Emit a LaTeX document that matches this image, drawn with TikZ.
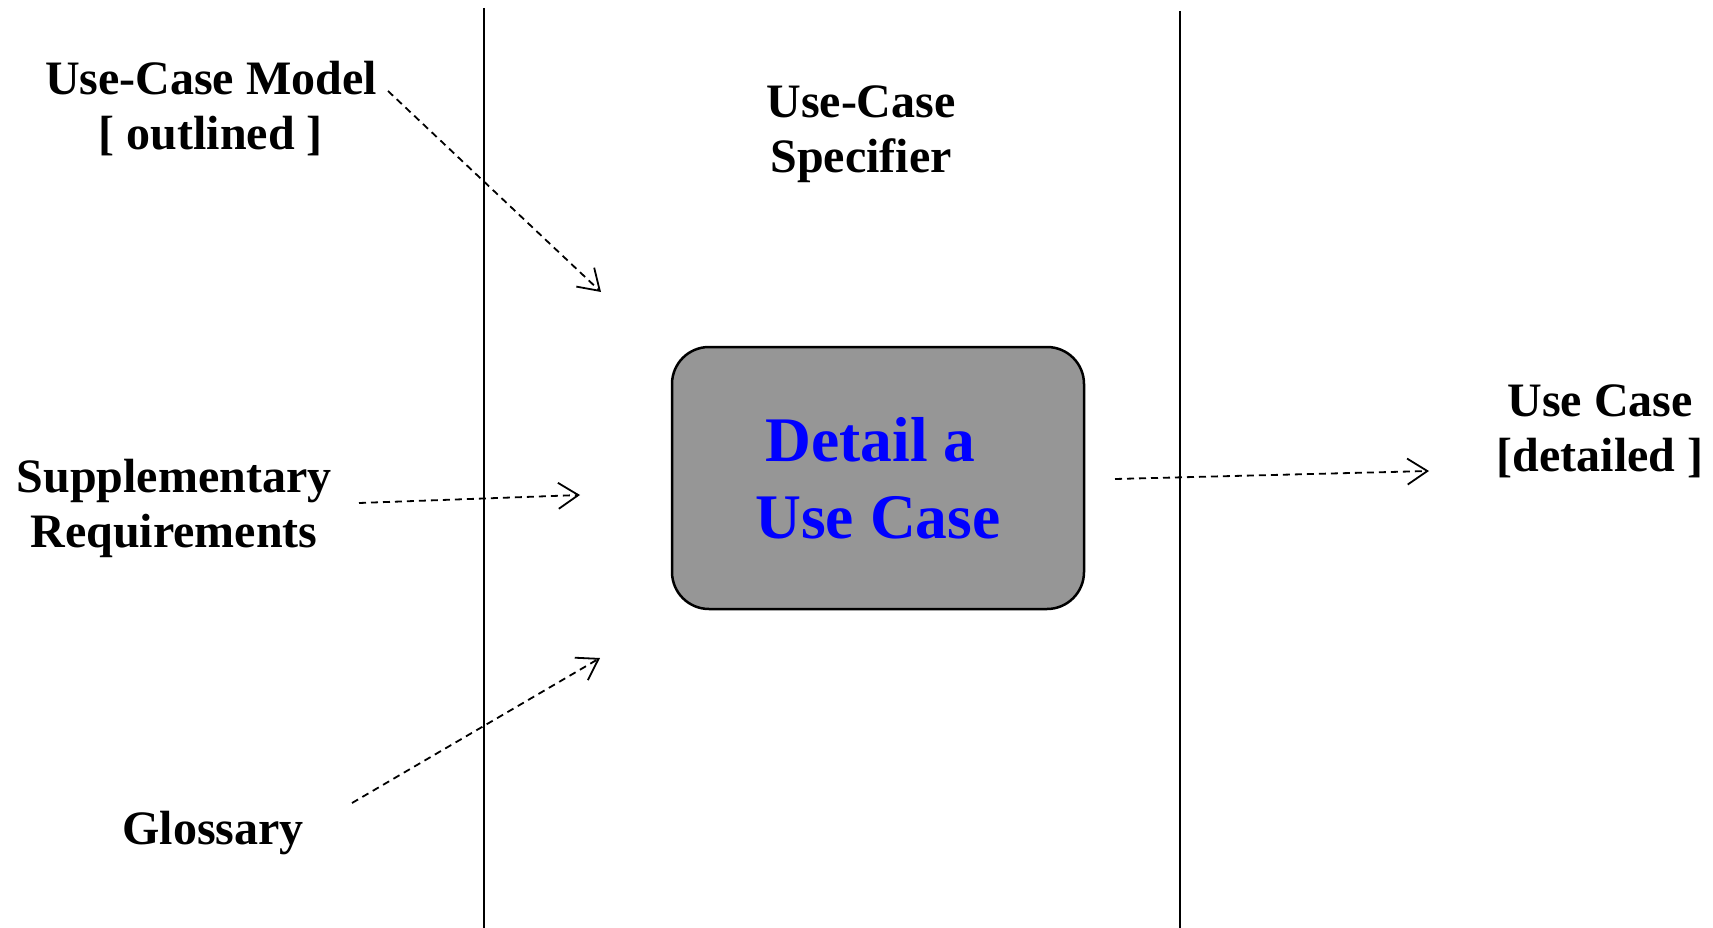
\documentclass[tikz,border=0pt]{standalone}
\usepackage{fontspec}
\setmainfont{Liberation Serif}
\usepackage{tikz}
\usetikzlibrary{arrows.meta}
\definecolor{actgray}{RGB}{150,150,150}

\begin{document}
\begin{tikzpicture}[x=1pt,y=-1pt,
  lbl/.style={font=\fontsize{48}{55}\selectfont\bfseries,align=center,inner sep=0pt,anchor=base},
  act/.style={draw,line width=2.5pt,rounded corners=37pt,fill=actgray,text=blue,
    font=\fontsize{63.5}{77}\selectfont\bfseries,align=center,
    minimum width=412pt,minimum height=262pt,inner sep=0pt},
  flow/.style={line width=1.8pt,dash pattern=on 7pt off 5pt,
    -{Straight Barb[length=20pt,width=26pt]}},
  lane/.style={line width=2pt}]
 \useasboundingbox (0,0) rectangle (1713,928);
 \draw[lane] (484,8) -- (484,928);
 \draw[lane] (1180,11) -- (1180,928);
 \node[act] (detail) at (878,478) {Detail a\hspace*{15pt}\\Use Case};
 \node[lbl] (model) at (211,150) {Use-Case Model\\{[} outlined {]}};
 \node[lbl] (worker) at (861,173) {Use-Case\\Specifier};
 \node[lbl] (suppl) at (174,547) {Supplementary\\Requirements};
 \node[lbl] (gloss) at (213,844) {Glossary};
 \node[lbl] (usecase) at (1600,471) {Use Case\\{[}detailed {]}};
 \coordinate (model-out) at (388,91);
 \coordinate (model-in) at (601,292);
 \coordinate (suppl-out) at (359,503);
 \coordinate (suppl-in) at (580,495);
 \coordinate (gloss-out) at (352,803);
 \coordinate (gloss-in) at (600,658);
 \coordinate (detail-out) at (1115,479);
 \coordinate (usecase-in) at (1429,471);
 \draw[flow] (model-out) -- (model-in);
 \draw[flow] (suppl-out) -- (suppl-in);
 \draw[flow] (gloss-out) -- (gloss-in);
 \draw[flow] (detail-out) -- (usecase-in);
\end{tikzpicture}
\end{document}
